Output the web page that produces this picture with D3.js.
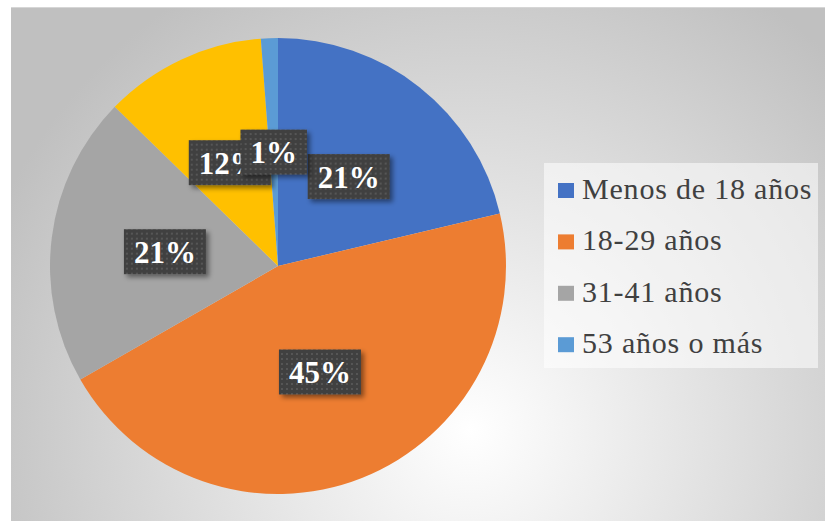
<!DOCTYPE html>
<html>
<head>
<meta charset="utf-8">
<script src="https://cdn.jsdelivr.net/npm/d3@7"></script>
<style>
  html, body { margin: 0; padding: 0; background: #fff; }
  svg { display: block; }
</style>
</head>
<body>
<div id="chart"></div>
<script>
// slice data (percent), clockwise from the top
var categories = ["Menos de 18 años", "18-29 años", "31-41 años", "42-52 años", "53 años o más"];
var values     = [21.3, 45.4, 20.6, 11.5, 1.2];
var colors     = ["#4472c4", "#ed7d31", "#a5a5a5", "#ffc000", "#5b9bd5"];
// the legend of the original only lists these four
var legendIdx  = [0, 1, 2, 4];

var W = 825, H = 521;
var cx = 278, cy = 266, R = 228;
var serif = "Liberation Serif";

var svg = d3.select("#chart").append("svg")
  .attr("width", W)
  .attr("height", H);

var defs = svg.append("defs");

// radial background like the office style
var grad = defs.append("radialGradient")
  .attr("id", "bg")
  .attr("gradientUnits", "userSpaceOnUse")
  .attr("cx", 470).attr("cy", 430).attr("r", 520);
grad.append("stop").attr("offset", "0").attr("stop-color", "#ffffff");
grad.append("stop").attr("offset", "1").attr("stop-color", "#c0c0c0");

// dotted pattern for the label boxes
var pat = defs.append("pattern")
  .attr("id", "dots")
  .attr("patternUnits", "userSpaceOnUse")
  .attr("width", 5).attr("height", 5);
pat.append("rect").attr("width", 5).attr("height", 5).attr("fill", "#404040");
pat.append("rect").attr("x", 1).attr("y", 1).attr("width", 2).attr("height", 2).attr("fill", "#565656");

var shadow = defs.append("filter")
  .attr("id", "shadow")
  .attr("x", "-20%").attr("y", "-20%").attr("width", "150%").attr("height", "160%");
shadow.append("feDropShadow")
  .attr("dx", 3).attr("dy", 3).attr("stdDeviation", 2.5)
  .attr("flood-color", "#000").attr("flood-opacity", 0.45);

// chart area
svg.append("rect")
  .attr("x", 11).attr("y", 8)
  .attr("width", W - 11).attr("height", H - 8)
  .attr("fill", "url(#bg)");
svg.append("line")
  .attr("x1", 11).attr("x2", W).attr("y1", 7.5).attr("y2", 7.5)
  .attr("stroke", "#d6d6d6").attr("stroke-width", 1);

var pie = d3.pie().sort(null).value(function(d) { return d; });
var arcs = pie(values);

var arc = d3.arc().innerRadius(0).outerRadius(R);

var g = svg.append("g").attr("transform", "translate(" + cx + "," + cy + ")");

g.selectAll("path.slice")
  .data(arcs)
  .enter()
  .append("path")
  .attr("class", "slice")
  .attr("d", arc)
  .attr("fill", function(d, i) { return colors[i]; });

// data labels: dark boxes at the centroid
var labels = g.selectAll("g.lbl")
  .data(arcs)
  .enter()
  .append("g")
  .attr("class", "lbl")
  .attr("transform", function(d) {
    var c = arc.centroid(d);
    return "translate(" + c[0] + "," + c[1] + ")";
  });

labels.each(function(d) {
  var el = d3.select(this);
  var txt = el.append("text")
    .attr("text-anchor", "middle")
    .attr("y", 11)
    .attr("font-family", serif)
    .attr("font-weight", "bold")
    .attr("font-size", 31)
    .attr("fill", "#ffffff")
    .text(Math.round(d.value) + "%");
  var w = txt.node().getComputedTextLength() + 20, h = 45;
  el.insert("rect", "text")
    .attr("x", -w / 2).attr("y", -h / 2)
    .attr("width", w).attr("height", h)
    .attr("fill", "url(#dots)")
    .attr("filter", "url(#shadow)");
});

// legend
var lx = 544, ly = 163, lw = 274, lh = 205;
svg.append("rect")
  .attr("x", lx).attr("y", ly)
  .attr("width", lw).attr("height", lh)
  .attr("fill", "#ffffff")
  .attr("fill-opacity", 0.55);

var legend = svg.selectAll("g.leg")
  .data(legendIdx)
  .enter()
  .append("g")
  .attr("class", "leg")
  .attr("transform", function(d, i) { return "translate(" + (lx + 14) + "," + (ly + 36 + i * 51.4) + ")"; });

legend.append("rect")
  .attr("x", 0).attr("y", -16)
  .attr("width", 16).attr("height", 15)
  .attr("fill", function(d) { return colors[d]; });

legend.append("text")
  .attr("x", 24).attr("y", 0)
  .attr("font-family", serif)
  .attr("font-size", 30)
  .attr("letter-spacing", 0.8)
  .attr("fill", "#404040")
  .text(function(d) { return categories[d]; });
</script>
</body>
</html>
